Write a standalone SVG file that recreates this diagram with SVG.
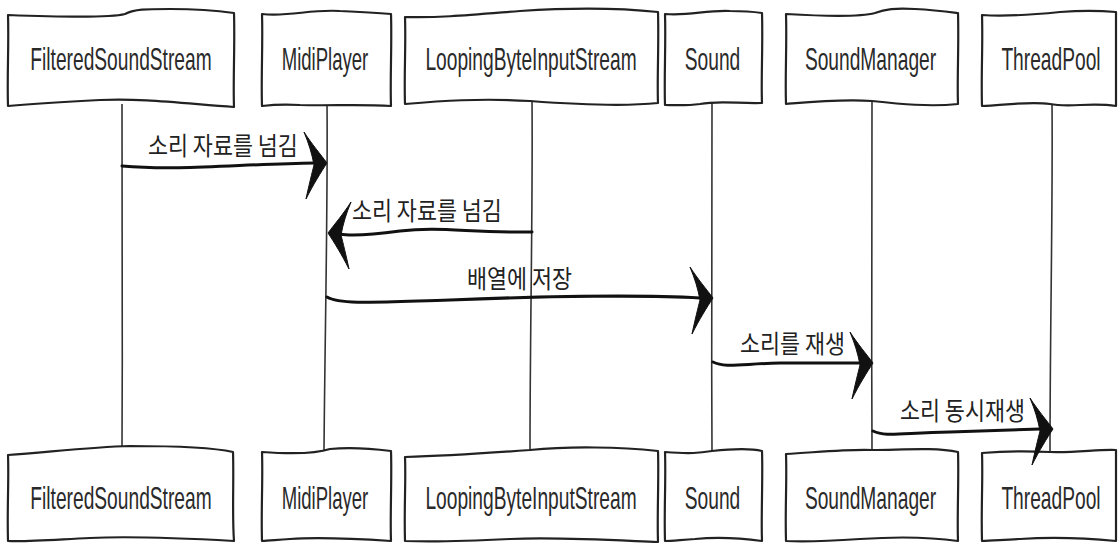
<svg xmlns="http://www.w3.org/2000/svg" xmlns:xlink="http://www.w3.org/1999/xlink" width="1118" height="545" viewBox="0 0 1118 545">
  <style>
    .box { fill: #ffffff; stroke: #222; stroke-width: 2.2; stroke-linejoin: round; }
    .life { fill: none; stroke: #333; stroke-width: 1.6; }
    .msg { fill: none; stroke: #111; stroke-width: 3; stroke-linecap: round; }
    .head { fill: #111; stroke: #111; stroke-width: 1; stroke-linejoin: round; }
    .name { font-family: "Liberation Sans", Arial, sans-serif; font-size: 32px; fill: #2a2a2a; text-anchor: middle; }
    .lbl { font-family: "Noto Sans CJK KR", "Noto Sans", sans-serif; font-size: 25px; fill: #222; }
  </style>
  <defs>
    <!-- sketchy filled arrowhead, tip at origin pointing +x -->
    <path id="ah" d="M -23,-31 C -16,-20 -6,-8 0,0 C -6,9 -14,22 -21,36 C -18,22 -15,10 -13,2 C -15,-9 -18,-19 -23,-31 Z"/>
  </defs>
  <rect width="1118" height="545" fill="#ffffff"/>

  <!-- lifelines -->
  <g id="lifelines">
    <path class="life" d="M122,104 C 121,200 123,330 122,449"/>
    <path class="life" d="M327,103 C 328,200 325,330 324,450"/>
    <path class="life" d="M532,100 C 533,200 530,330 530,450"/>
    <path class="life" d="M712,103 C 713,200 711,330 712,451"/>
    <path class="life" d="M872,101 C 873,200 871,330 872,450"/>
    <path class="life" d="M1052,104 C 1053,200 1050,330 1050,452"/>
  </g>

  <!-- participants, top row (names are set in a condensed width) -->
  <g id="FilteredSoundStream-top">
    <path class="box" d="M8,15 C 60,17 110,18 125,14 C 135,9 145,9 170,9 C 200,9 220,11 234,13 C 235,45 233,80 234,107 C 180,103 140,98 100,100 C 60,102 30,104 8,106 C 7,75 9,45 8,15 Z"/>
    <text class="name" transform="translate(121,70) scale(0.6,1)">FilteredSoundStream</text>
  </g>
  <g id="MidiPlayer-top">
    <path class="box" d="M262,14 C 290,17 310,9 340,11 C 365,12 380,13 391,14 C 392,45 390,80 391,106 C 360,104 330,106 300,105 C 285,104 270,105 262,106 C 261,75 263,45 262,14 Z"/>
    <text class="name" transform="translate(325,70) scale(0.58,1)">MidiPlayer</text>
  </g>
  <g id="LoopingByteInputStream-top">
    <path class="box" d="M405,17 C 440,18 470,15 520,11 C 580,7 630,9 658,12 C 659,45 657,80 658,103 C 620,107 570,104 530,101 C 480,98 440,101 405,104 C 404,75 406,45 405,17 Z"/>
    <text class="name" transform="translate(531,70) scale(0.6,1)">LoopingByteInputStream</text>
  </g>
  <g id="Sound-top">
    <path class="box" d="M665,14 C 690,16 705,10 730,11 C 745,11 755,12 762,13 C 763,45 761,80 762,103 C 740,104 720,100 700,104 C 685,106 672,105 665,105 C 664,75 666,45 665,14 Z"/>
    <text class="name" transform="translate(712.5,70) scale(0.6,1)">Sound</text>
  </g>
  <g id="SoundManager-top">
    <path class="box" d="M786,14 C 820,16 860,17 875,13 C 885,9 895,8 915,9 C 935,10 950,12 958,13 C 959,45 957,80 958,104 C 930,107 900,104 872,101 C 840,99 810,102 786,104 C 785,75 787,45 786,14 Z"/>
    <text class="name" transform="translate(870.5,70) scale(0.6,1)">SoundManager</text>
  </g>
  <g id="ThreadPool-top">
    <path class="box" d="M982,15 C 1010,17 1040,14 1060,12 C 1085,10 1105,11 1116,12 L 1116,106 C 1090,102 1070,108 1050,104 C 1030,101 1005,105 982,106 C 981,75 983,45 982,15 Z"/>
    <text class="name" transform="translate(1051,70) scale(0.6,1)">ThreadPool</text>
  </g>

  <!-- participants, bottom row -->
  <g id="FilteredSoundStream-bottom">
    <path class="box" d="M8,455 C 50,452 90,447 130,446 C 180,446 215,448 233,452 C 234,480 232,515 234,541 C 180,538 130,536 90,538 C 50,540 25,542 8,541 C 7,510 9,480 8,455 Z"/>
    <text class="name" transform="translate(121,509) scale(0.6,1)">FilteredSoundStream</text>
  </g>
  <g id="MidiPlayer-bottom">
    <path class="box" d="M262,452 C 290,454 315,454 330,449 C 350,447 375,449 391,451 C 392,480 390,515 391,541 C 360,539 320,537 290,539 C 275,540 268,541 262,541 C 261,510 263,480 262,452 Z"/>
    <text class="name" transform="translate(325,509) scale(0.58,1)">MidiPlayer</text>
  </g>
  <g id="LoopingByteInputStream-bottom">
    <path class="box" d="M405,457 C 450,456 490,453 530,450 C 570,446 620,447 658,451 C 659,480 657,515 658,542 C 610,540 560,537 510,539 C 470,541 430,542 405,541 C 404,510 406,480 405,457 Z"/>
    <text class="name" transform="translate(531,509) scale(0.6,1)">LoopingByteInputStream</text>
  </g>
  <g id="Sound-bottom">
    <path class="box" d="M665,452 C 690,454 700,453 712,451 C 730,449 750,448 762,451 C 763,480 761,515 762,541 C 740,538 715,537 695,539 C 680,540 670,541 665,541 C 664,510 666,480 665,452 Z"/>
    <text class="name" transform="translate(712.5,509) scale(0.6,1)">Sound</text>
  </g>
  <g id="SoundManager-bottom">
    <path class="box" d="M786,454 C 820,452 850,449 872,450 C 900,450 935,447 958,452 C 959,480 957,515 958,541 C 930,537 890,537 860,539 C 830,541 805,542 786,541 C 785,510 787,480 786,454 Z"/>
    <text class="name" transform="translate(870.5,509) scale(0.6,1)">SoundManager</text>
  </g>
  <g id="ThreadPool-bottom">
    <path class="box" d="M982,453 C 1005,451 1030,451 1050,452 C 1075,453 1100,449 1116,450 L 1116,541 C 1085,538 1050,537 1020,539 C 1000,540 990,541 982,541 C 981,510 983,480 982,453 Z"/>
    <text class="name" transform="translate(1051,509) scale(0.6,1)">ThreadPool</text>
  </g>

  <!-- messages -->
  <g id="connectors">
    <path class="msg" d="M122,166 C 180,171 240,164 315,163"/>
    <use xlink:href="#ah" href="#ah" class="head" transform="translate(327,163)"/>
    <text class="lbl" transform="translate(148,155) scale(0.87,1)">소리 자료를 넘김</text>

    <path class="msg" d="M532,232 C 470,233 440,226 400,231 C 370,235 350,236 340,234"/>
    <use xlink:href="#ah" href="#ah" class="head" transform="translate(328,233) scale(-1,1)"/>
    <text class="lbl" transform="translate(352,220) scale(0.87,1)">소리 자료를 넘김</text>

    <path class="msg" d="M327,297 C 340,305 380,302 450,300 C 550,296 650,295 700,298"/>
    <use xlink:href="#ah" href="#ah" class="head" transform="translate(713,298)"/>
    <text class="lbl" transform="translate(467,288) scale(0.87,1)">배열에 저장</text>

    <path class="msg" d="M713,362 C 725,368 740,364 780,363 L 860,363"/>
    <use xlink:href="#ah" href="#ah" class="head" transform="translate(873,363)"/>
    <text class="lbl" transform="translate(740,353) scale(0.87,1)">소리를 재생</text>

    <path class="msg" d="M873,431 C 885,437 900,433 950,432 L 1040,429"/>
    <use xlink:href="#ah" href="#ah" class="head" transform="translate(1053,429)"/>
    <text class="lbl" transform="translate(900,420) scale(0.87,1)">소리 동시재생</text>
  </g>
</svg>
